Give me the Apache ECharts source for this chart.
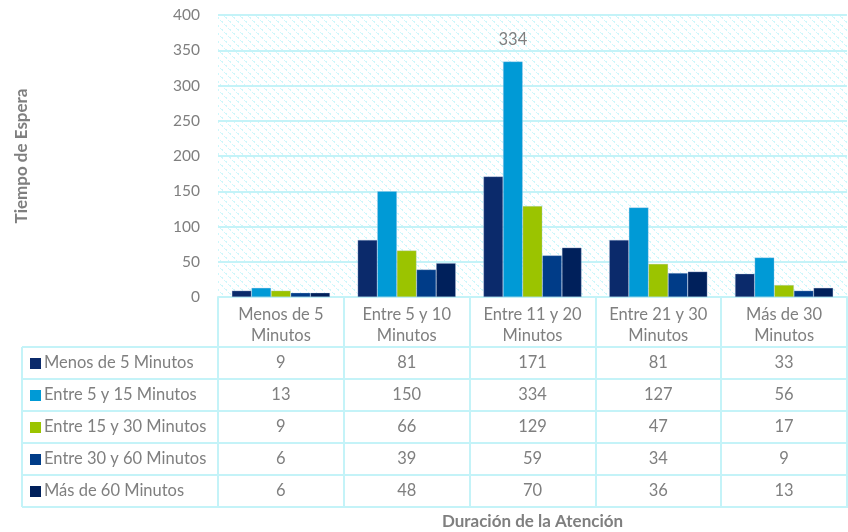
<!DOCTYPE html>
<html>
<head>
<meta charset="utf-8">
<script src="https://cdn.jsdelivr.net/npm/echarts@6/dist/echarts.min.js"></script>
<style>
  html, body { margin: 0; padding: 0; background: #fff; }
  #chart { width: 848px; height: 532px; }
</style>
</head>
<body>
<div id="chart"></div>
<script>
// datos
const categories = ['Menos de 5\nMinutos', 'Entre 5 y 10\nMinutos', 'Entre 11 y 20\nMinutos', 'Entre 21 y 30\nMinutos', 'Más de 30\nMinutos']
const seriesNames = ['Menos de 5 Minutos', 'Entre 5 y 15 Minutos', 'Entre 15 y 30 Minutos', 'Entre 30 y 60 Minutos', 'Más de 60 Minutos']
const menos5 = [9, 81, 171, 81, 33]
const entre5y15 = [13, 150, 334, 127, 56]
const entre15y30 = [9, 66, 129, 47, 17]
const entre30y60 = [6, 39, 59, 34, 9]
const mas60 = [6, 48, 70, 36, 13]
const yTicks = [0, 50, 100, 150, 200, 250, 300, 350, 400]

const values = [menos5, entre5y15, entre15y30, entre30y60, mas60]
const colors = ['#0B2A6B', '#009AD6', '#9BC400', '#003C88', '#00205B']

const FONT = 'Lato'
const TXT = '#7f7f7f'
const LINE = '#C4F3F8'
const FS = 16.5

// fondo rayado
const pat = document.createElement('canvas')
pat.width = 8
pat.height = 8
const pc = pat.getContext('2d')
pc.fillStyle = '#ffffff'
pc.fillRect(0, 0, 8, 8)
pc.fillStyle = '#CFF7FB'
for (let i = 0; i < 8; i++) {
    if (i % 4 !== 3) pc.fillRect(i, i, 1, 1)
    if (i % 4 === 1) pc.fillRect((i + 1) % 8, i, 1, 1)
}

const chart = echarts.init(document.getElementById('chart'))

const tableTop = 297
const rowH = 32
const headH = 50

const option = {
    animation: false,
    textStyle: { fontFamily: FONT },
    grid: {
        left: 218, right: 1, top: 15, bottom: 235,
        containLabel: false,
        outerBoundsMode: 'none',
        show: true, borderWidth: 0,
        backgroundColor: { image: pat, repeat: 'repeat' }
    },
    xAxis: {
        type: 'category',
        data: categories,
        name: 'Duración de la Atención',
        nameLocation: 'middle',
        nameGap: 216,
        nameTextStyle: { color: TXT, fontSize: 17, fontWeight: 'bold', fontFamily: FONT },
        axisLine: { lineStyle: { color: LINE, width: 2 } },
        axisTick: { show: true, interval: 0, length: 210, lineStyle: { color: LINE, width: 2 } },
        axisLabel: { color: TXT, fontSize: FS, lineHeight: 21, margin: 7, interval: 0, fontFamily: FONT }
    },
    yAxis: {
        type: 'value',
        min: yTicks[0],
        max: yTicks[yTicks.length - 1],
        interval: 50,
        name: 'Tiempo de Espera',
        nameLocation: 'middle',
        nameGap: 188,
        nameRotate: 90,
        nameTextStyle: { color: TXT, fontSize: 17, fontWeight: 'bold', fontFamily: FONT },
        axisLine: { show: false },
        axisTick: { show: false },
        axisLabel: { color: TXT, fontSize: 15.5, margin: 18, fontFamily: FONT },
        splitLine: { lineStyle: { color: LINE, width: 2 } }
    },
    series: values.map((arr, k) => ({
        name: seriesNames[k],
        type: 'bar',
        barGap: '0%',
        barCategoryGap: '22%',
        itemStyle: { color: colors[k], borderColor: 'rgba(180,200,230,0.6)', borderWidth: 0.5 },
        data: arr.map((v) => {
            if (v === Math.max(...entre5y15) && k === 1) {
                return { value: v, label: { show: true, position: 'top', distance: 13, color: TXT, fontSize: FS, fontFamily: FONT } }
            }
            return v
        })
    }))
}

chart.setOption(option)

// tabla de datos
const graphics = []
const left = 22
const right = 848
const firstRow = tableTop + headH
for (let r = 0; r <= seriesNames.length; r++) {
    const y = firstRow + r * rowH
    graphics.push({ type: 'line', shape: { x1: left, y1: y, x2: right, y2: y }, style: { stroke: LINE, lineWidth: 2 } })
}
graphics.push({ type: 'line', shape: { x1: left, y1: firstRow, x2: left, y2: firstRow + seriesNames.length * rowH }, style: { stroke: LINE, lineWidth: 2 } })

seriesNames.forEach((name, k) => {
    const cy = firstRow + k * rowH + rowH / 2
    graphics.push({ type: 'rect', shape: { x: 30, y: cy - 5, width: 11, height: 11 }, style: { fill: colors[k] } })
    graphics.push({ type: 'text', x: 44, y: cy, style: { text: name, fill: TXT, font: FS + 'px ' + FONT, textVerticalAlign: 'middle' } })
    values[k].forEach((v, i) => {
        const cx = chart.convertToPixel({ xAxisIndex: 0 }, i)
        graphics.push({ type: 'text', x: cx, y: cy, style: { text: String(v), fill: TXT, font: FS + 'px ' + FONT, textAlign: 'center', textVerticalAlign: 'middle' } })
    })
})

chart.setOption({ graphic: graphics })
</script>
</body>
</html>
